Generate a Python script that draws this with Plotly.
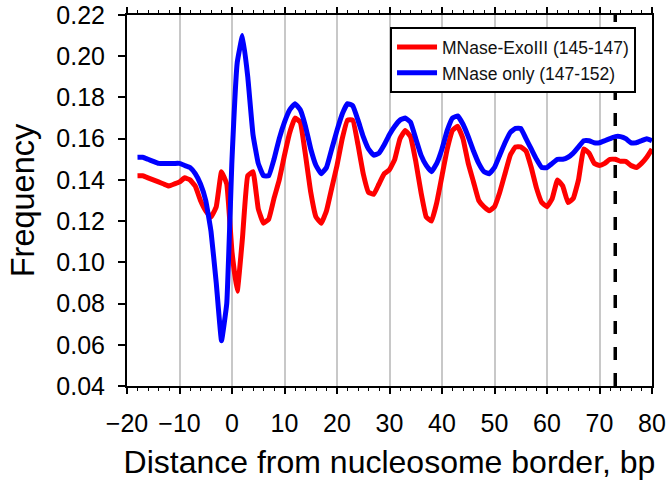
import plotly.graph_objects as go

# Distance from nucleosome border (bp)
positions = list(range(-18, 81))

# MNase-ExoIII (145-147) frequency profile
exo_freq = [
    0.142, 0.142, 0.141, 0.140, 0.139, 0.138, 0.137, 0.138, 0.139, 0.141,   # -18..-9
    0.140, 0.137, 0.130, 0.125, 0.122, 0.127, 0.144, 0.138, 0.105, 0.086,   # -8..1
    0.112, 0.142, 0.144, 0.126, 0.119, 0.121, 0.131, 0.140, 0.152, 0.163,   # 2..11
    0.170, 0.168, 0.152, 0.134, 0.122, 0.119, 0.125, 0.136, 0.147, 0.160,   # 12..21
    0.169, 0.169, 0.157, 0.143, 0.134, 0.133, 0.138, 0.143, 0.145, 0.150,   # 22..31
    0.160, 0.164, 0.161, 0.149, 0.134, 0.122, 0.120, 0.129, 0.142, 0.155,   # 32..41
    0.164, 0.166, 0.160, 0.148, 0.139, 0.130, 0.127, 0.125, 0.127, 0.134,   # 42..51
    0.143, 0.152, 0.156, 0.156, 0.154, 0.146, 0.136, 0.129, 0.127, 0.131,   # 52..61
    0.140, 0.137, 0.129, 0.131, 0.140, 0.155, 0.153, 0.148, 0.147, 0.148,   # 62..71
    0.150, 0.150, 0.149, 0.149, 0.147, 0.146, 0.148, 0.151, 0.155,          # 72..80
]

# MNase only (147-152) frequency profile
mnase_freq = [
    0.151, 0.151, 0.150, 0.149, 0.148, 0.148, 0.148, 0.148, 0.148, 0.147,   # -18..-9
    0.146, 0.143, 0.138, 0.130, 0.115, 0.090, 0.062, 0.080, 0.150, 0.197,   # -8..1
    0.210, 0.190, 0.162, 0.148, 0.142, 0.142, 0.150, 0.160, 0.168, 0.174,   # 2..11
    0.177, 0.174, 0.166, 0.155, 0.147, 0.143, 0.146, 0.155, 0.164, 0.172,   # 12..21
    0.177, 0.176, 0.169, 0.161, 0.155, 0.152, 0.153, 0.157, 0.162, 0.166,   # 22..31
    0.169, 0.170, 0.168, 0.160, 0.152, 0.147, 0.144, 0.148, 0.155, 0.164,   # 32..41
    0.170, 0.171, 0.167, 0.161, 0.154, 0.148, 0.144, 0.143, 0.146, 0.152,   # 42..51
    0.158, 0.163, 0.165, 0.165, 0.160, 0.155, 0.150, 0.146, 0.146, 0.148,   # 52..61
    0.150, 0.150, 0.151, 0.153, 0.156, 0.159, 0.159, 0.158, 0.158, 0.159,   # 62..71
    0.160, 0.161, 0.161, 0.160, 0.158, 0.158, 0.159, 0.160, 0.159,          # 72..80
]

series_names = ["MNase-ExoIII (145-147)", "MNase only (147-152)"]
series_colors = ["#FF0000", "#0000FF"]

x_ticks = list(range(-20, 81, 10))
y_ticks = [0.04, 0.06, 0.08, 0.10, 0.12, 0.14, 0.16, 0.18, 0.20, 0.22]
marker_position = 73

font_family = "Liberation Sans, Arial, sans-serif"

fig = go.Figure()
for name, vals, color in zip(series_names, [exo_freq, mnase_freq], series_colors):
    fig.add_trace(go.Scatter(
        x=positions, y=vals, mode="lines", name=name,
        line=dict(color=color, width=5, shape="spline", smoothing=0.3),
    ))

# vertical dashed reference line, drawn upward from the x axis
fig.add_shape(type="line", xref="x", yref="paper",
              x0=marker_position, x1=marker_position, y0=0, y1=1,
              line=dict(color="black", width=3.5, dash="13px,13px"))

fig.update_layout(
    width=669, height=482,
    margin=dict(l=127, r=17, t=15, b=96),
    plot_bgcolor="white", paper_bgcolor="white",
    font=dict(family=font_family, color="black"),
    showlegend=True,
    legend=dict(
        x=0.501, y=0.967, xanchor="left", yanchor="top",
        bgcolor="white", bordercolor="black", borderwidth=2,
        font=dict(size=17.5, family=font_family, color="#111"),
        itemwidth=40, tracegroupgap=0,
    ),
)

fig.update_xaxes(
    range=[-20, 80], tickvals=x_ticks, automargin=False,
    showgrid=True, gridcolor="#C8C8C8", gridwidth=2,
    zeroline=False,
    showline=True, linecolor="black", linewidth=2, mirror="ticks",
    ticks="outside", ticklen=6, tickwidth=1.5, tickcolor="black",
    minor=dict(dtick=2, ticks="outside", ticklen=3, tickwidth=1, tickcolor="black", showgrid=False),
    tickfont=dict(size=25, family=font_family), ticklabelstandoff=8,
    title=dict(text="Distance from nucleosome border, bp",
               font=dict(size=32, family=font_family), standoff=15),
)

fig.update_yaxes(
    range=[0.04, 0.22], tickvals=y_ticks, tickformat=".2f", automargin=False,
    showgrid=False, zeroline=False,
    showline=True, linecolor="black", linewidth=2, mirror=True,
    ticks="outside", ticklen=7, tickwidth=1.5, tickcolor="black",
    tickfont=dict(size=25, family=font_family), ticklabelstandoff=8,
    title=dict(text="Frequency", font=dict(size=32.5, family=font_family), standoff=12),
)

fig.write_html("out.html")
